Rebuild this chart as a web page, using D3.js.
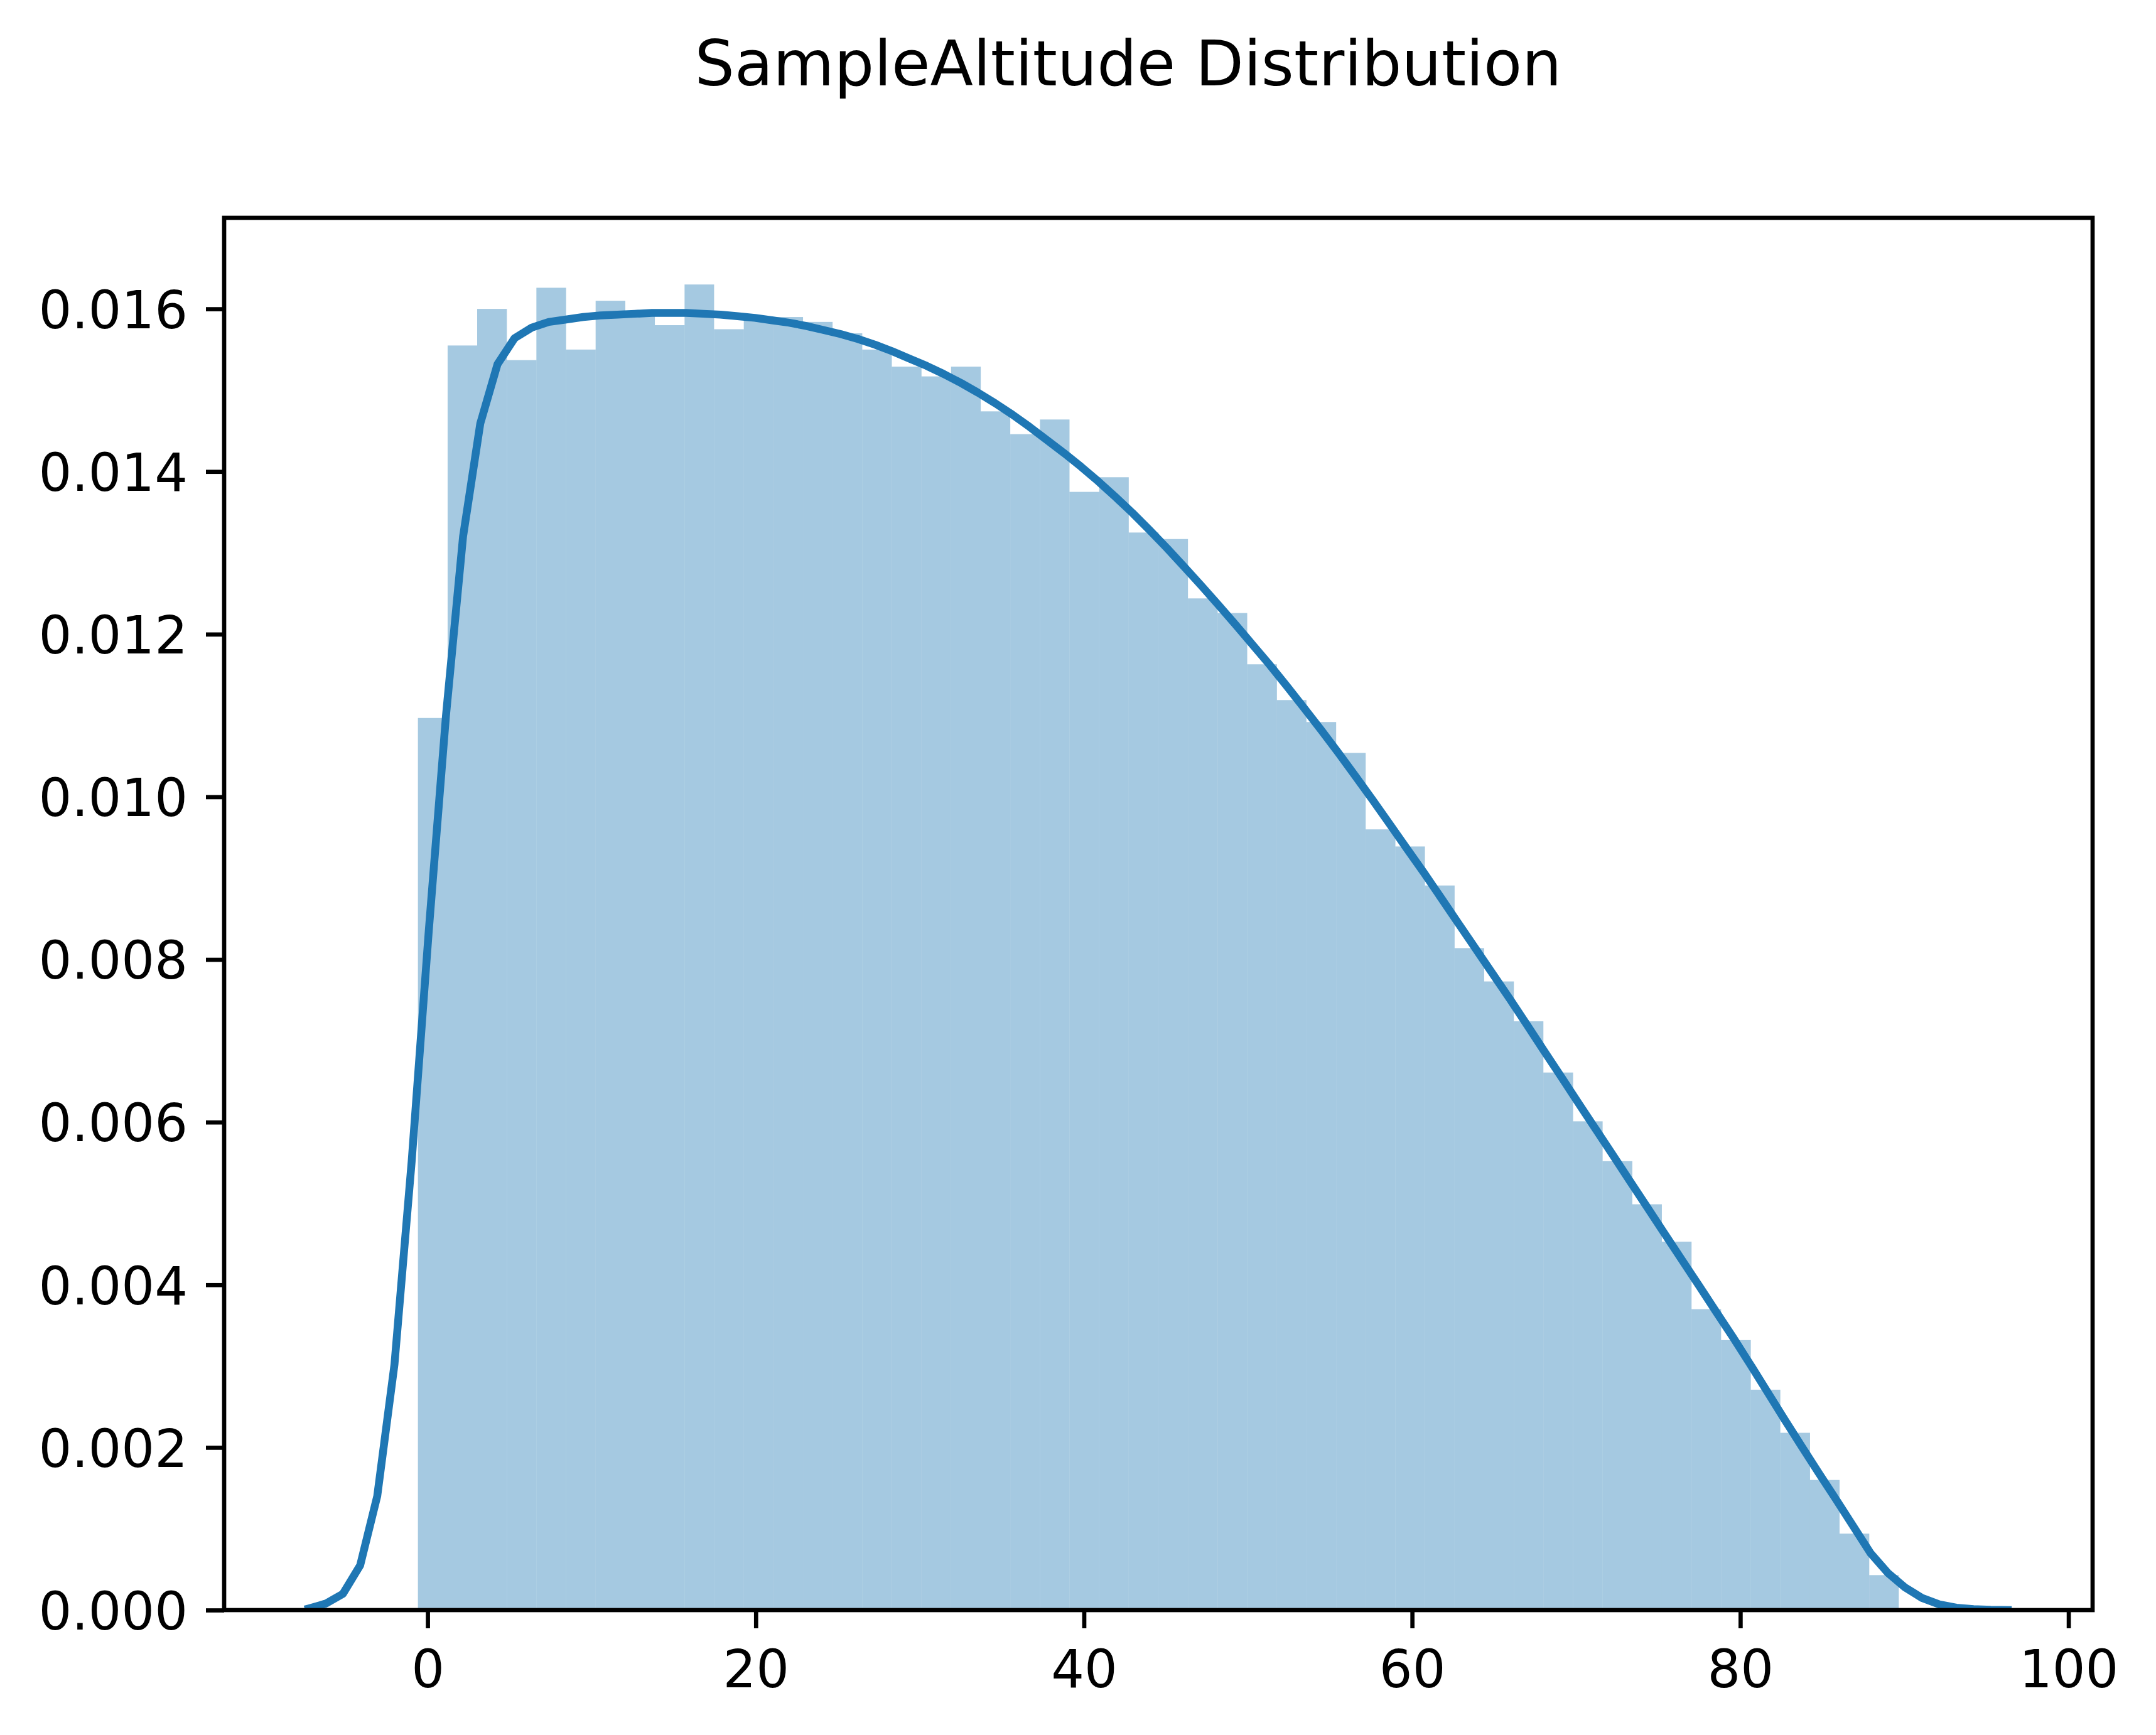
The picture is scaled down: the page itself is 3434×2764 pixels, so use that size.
<!DOCTYPE html>
<html>
<head>
<meta charset="utf-8">
<script src="https://cdn.jsdelivr.net/npm/d3@7/dist/d3.min.js"></script>
<style>
  html, body { margin: 0; padding: 0; background: #ffffff; }
  svg { display: block; }
</style>
</head>
<body>
<script>
// ---------------- data ----------------
const chartTitle = "SampleAltitude Distribution";

// histogram bin edges (51 edges -> 50 bins)
const binEdges = [-0.59, 1.22, 3.02, 4.83, 6.63, 8.44, 10.24, 12.05, 13.85, 15.66,
  17.46, 19.27, 21.07, 22.88, 24.68, 26.49, 28.29, 30.10, 31.90, 33.71,
  35.51, 37.32, 39.12, 40.93, 42.73, 44.54, 46.34, 48.15, 49.95, 51.76,
  53.56, 55.37, 57.17, 58.98, 60.78, 62.59, 64.39, 66.20, 68.00, 69.81,
  71.61, 73.42, 75.22, 77.03, 78.83, 80.64, 82.44, 84.25, 86.05, 87.86, 89.66];

// histogram density per bin
const binDensity = [0.01097, 0.01555, 0.01600, 0.01537, 0.01626, 0.01550, 0.01610, 0.01597, 0.01580, 0.01630,
  0.01575, 0.01586, 0.01590, 0.01584, 0.01570, 0.01550, 0.01529, 0.01517, 0.01529, 0.01474,
  0.01446, 0.01464, 0.01375, 0.01393, 0.01325, 0.01317, 0.01244, 0.01226, 0.01163, 0.01119,
  0.01092, 0.01054, 0.00960, 0.00939, 0.00891, 0.00814, 0.00773, 0.00724, 0.00661, 0.00601,
  0.00552, 0.00499, 0.00453, 0.00370, 0.00332, 0.00271, 0.00218, 0.00160, 0.00094, 0.00043];

// KDE curve: x positions and densities
const kdeX = [-7.25, -6.20, -5.16, -4.11, -3.07, -2.02, -0.97, 0.07, 1.12, 2.16,
  3.21, 4.26, 5.30, 6.35, 7.39, 8.44, 9.49, 10.53, 11.58, 12.62,
  13.67, 14.72, 15.76, 16.81, 17.85, 18.90, 19.95, 20.99, 22.04, 23.08,
  24.13, 25.18, 26.22, 27.27, 28.31, 29.36, 30.41, 31.45, 32.50, 33.54,
  34.59, 35.64, 36.68, 37.73, 38.77, 39.82, 40.87, 41.91, 42.96, 44.00,
  45.05, 46.10, 47.14, 48.19, 49.23, 50.28, 51.33, 52.37, 53.42, 54.46,
  55.51, 56.56, 57.60, 58.65, 59.69, 60.74, 61.79, 62.83, 63.88, 64.92,
  65.97, 67.02, 68.06, 69.11, 70.15, 71.20, 72.25, 73.29, 74.34, 75.38,
  76.43, 77.48, 78.52, 79.57, 80.61, 81.66, 82.71, 83.75, 84.80, 85.84,
  86.89, 87.94, 88.98, 90.03, 91.07, 92.12, 93.17, 94.21, 95.26, 96.30];

const kdeY = [0.00002, 0.00008, 0.00020, 0.00055, 0.00140, 0.00302, 0.00552, 0.00835, 0.01100, 0.01320,
  0.01459, 0.01532, 0.01564, 0.01577, 0.01584, 0.01587, 0.01590, 0.01592, 0.01593, 0.01594,
  0.01595, 0.01595, 0.01595, 0.01594, 0.01593, 0.01591, 0.01589, 0.01586, 0.01583, 0.01579,
  0.01574, 0.01569, 0.01563, 0.01556, 0.01548, 0.01539, 0.01530, 0.01520, 0.01509, 0.01497,
  0.01484, 0.01470, 0.01455, 0.01439, 0.01423, 0.01406, 0.01388, 0.01369, 0.01349, 0.01328,
  0.01306, 0.01283, 0.01260, 0.01236, 0.01212, 0.01187, 0.01162, 0.01136, 0.01109, 0.01082,
  0.01054, 0.01025, 0.00996, 0.00966, 0.00936, 0.00906, 0.00875, 0.00844, 0.00813, 0.00782,
  0.00751, 0.00719, 0.00687, 0.00655, 0.00623, 0.00591, 0.00559, 0.00527, 0.00495, 0.00463,
  0.00431, 0.00399, 0.00367, 0.00335, 0.00302, 0.00268, 0.00234, 0.00201, 0.00168, 0.00136,
  0.00103, 0.00070, 0.00046, 0.00028, 0.00015, 0.00007, 0.00003, 0.000012, 0.000004, 0.000001];

const xTicks = [0, 20, 40, 60, 80, 100];
const yTicks = [0.000, 0.002, 0.004, 0.006, 0.008, 0.010, 0.012, 0.014, 0.016];

// ---------------- layout ----------------
const W = 3434, H = 2764;
const axL = 357, axR = 3333, axT = 347, axB = 2565;
const fontFamily = "'DejaVu Sans', Verdana, sans-serif";
const tickFont = 83;
const tickLen = 29, tickPad = 29, tickW = 6.7;
const blue = "#1f77b4";

const svg = d3.select("body").append("svg")
  .attr("width", W).attr("height", H)
  .attr("viewBox", `0 0 ${W} ${H}`);

svg.append("rect").attr("width", W).attr("height", H).attr("fill", "#ffffff");

const x = d3.scaleLinear().domain([-12.40, 101.47]).range([axL, axR]);
const y = d3.scaleLinear().domain([0, 0.01712]).range([axB, axT]);

svg.append("defs").append("clipPath").attr("id", "plotclip")
  .append("rect").attr("x", axL).attr("y", axT)
  .attr("width", axR - axL).attr("height", axB - axT);

const plot = svg.append("g").attr("clip-path", "url(#plotclip)");

// histogram bars
const bins = binDensity.map((d, i) => ({ x0: binEdges[i], x1: binEdges[i + 1], v: d }));
plot.selectAll("rect.bar").data(bins).enter().append("rect")
  .attr("class", "bar")
  .attr("x", d => x(d.x0))
  .attr("width", d => x(d.x1) - x(d.x0))
  .attr("y", d => y(d.v))
  .attr("height", d => y(0) - y(d.v))
  .attr("fill", blue)
  .attr("fill-opacity", 0.4);

// KDE line
const kde = kdeX.map((v, i) => [v, kdeY[i]]);
plot.append("path")
  .datum(kde)
  .attr("d", d3.line().x(d => x(d[0])).y(d => y(d[1])))
  .attr("fill", "none")
  .attr("stroke", blue)
  .attr("stroke-width", 12.5)
  .attr("stroke-linejoin", "round")
  .attr("stroke-linecap", "square");

// axes
const xAxis = d3.axisBottom(x).tickValues(xTicks).tickSize(tickLen).tickPadding(tickPad)
  .tickFormat(d3.format("d"));
const gx = svg.append("g").attr("transform", `translate(0,${axB})`).call(xAxis);
gx.select(".domain").remove();
gx.selectAll(".tick line").attr("stroke", "#000").attr("stroke-width", tickW);
gx.selectAll(".tick text")
  .attr("fill", "#000")
  .attr("font-family", fontFamily)
  .attr("font-size", tickFont)
  .attr("y", tickLen + tickPad)
  .attr("dy", "0.78em");

const yAxis = d3.axisLeft(y).tickValues(yTicks).tickSize(tickLen).tickPadding(tickPad)
  .tickFormat(d3.format(".3f"));
const gy = svg.append("g").attr("transform", `translate(${axL},0)`).call(yAxis);
gy.select(".domain").remove();
gy.selectAll(".tick line").attr("stroke", "#000").attr("stroke-width", tickW);
gy.selectAll(".tick text")
  .attr("fill", "#000")
  .attr("font-family", fontFamily)
  .attr("font-size", tickFont)
  .attr("dy", "0.365em");

// spines
svg.append("rect")
  .attr("x", axL).attr("y", axT)
  .attr("width", axR - axL).attr("height", axB - axT)
  .attr("fill", "none")
  .attr("stroke", "#000")
  .attr("stroke-width", tickW)
  .attr("stroke-linejoin", "miter");

// title
svg.append("text")
  .attr("x", 1797).attr("y", 136)
  .attr("text-anchor", "middle")
  .attr("font-family", fontFamily)
  .attr("font-size", 100)
  .attr("fill", "#000")
  .text(chartTitle);
</script>
</body>
</html>
